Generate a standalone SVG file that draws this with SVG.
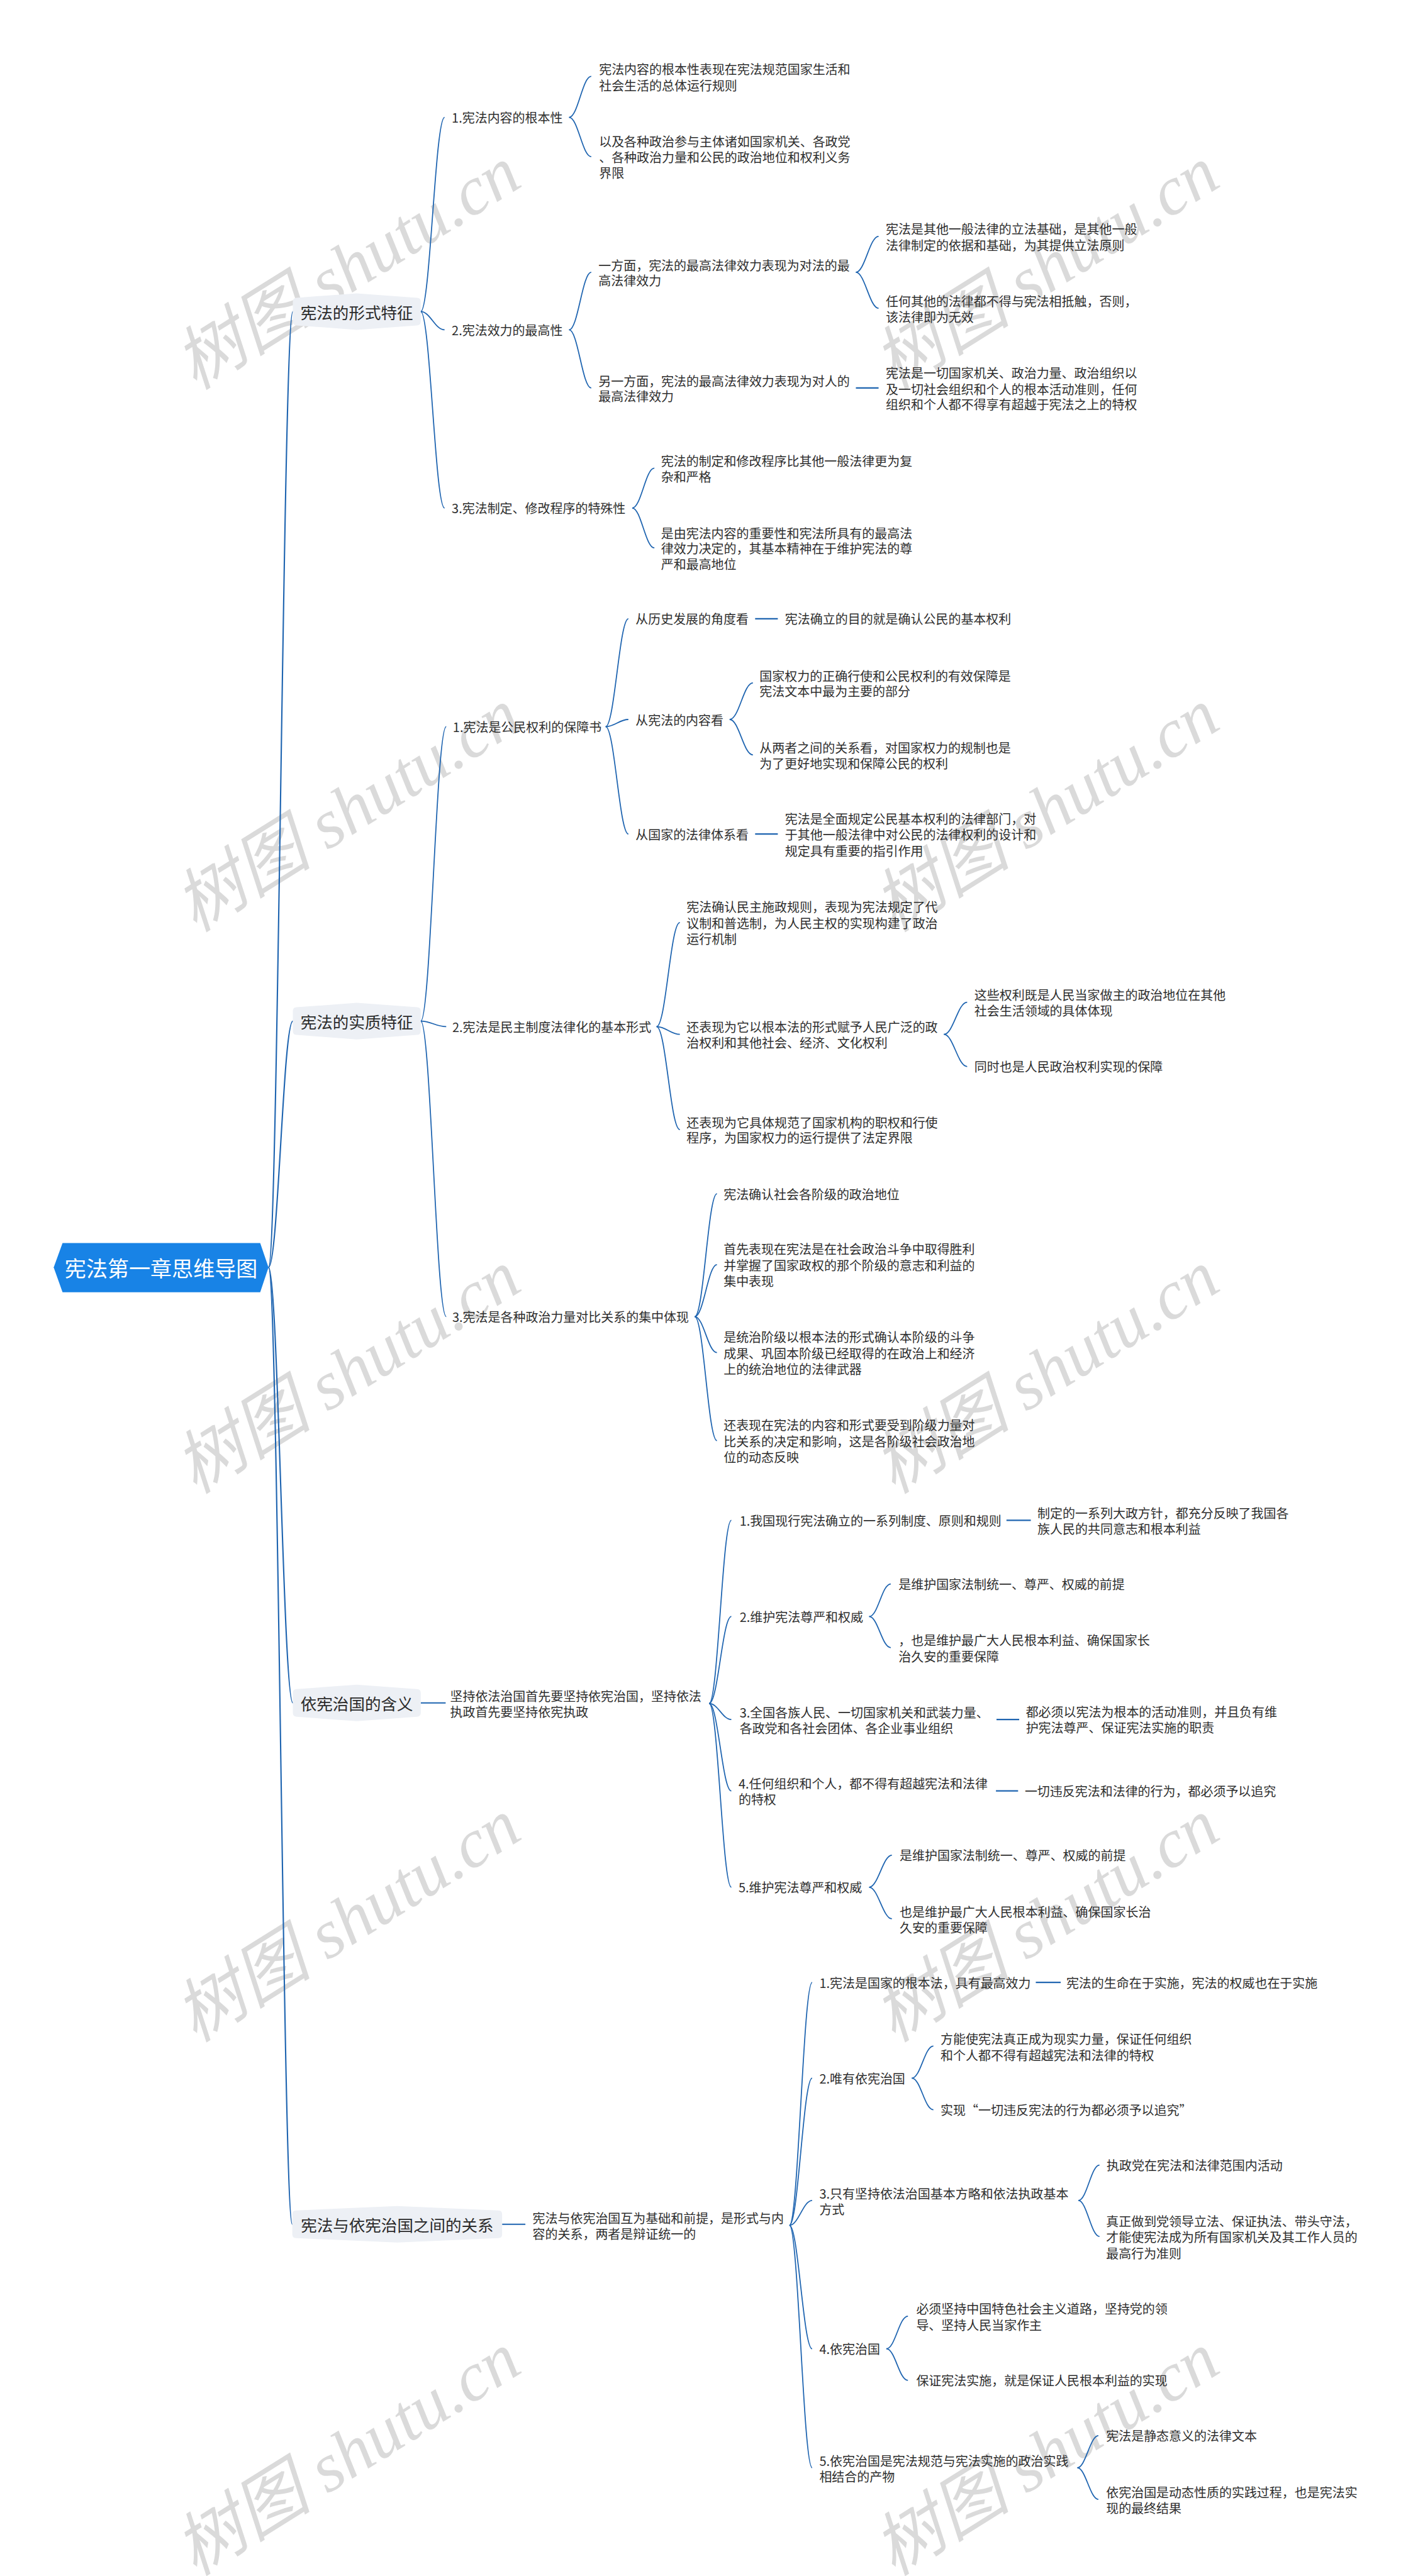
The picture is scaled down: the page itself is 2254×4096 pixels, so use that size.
<svg xmlns="http://www.w3.org/2000/svg" xmlns:xlink="http://www.w3.org/1999/xlink" width="2254" height="4096" viewBox="0 0 2254 4096">
<defs>
<style>
.t{font-family:"Noto Sans CJK SC","Noto Sans",sans-serif;font-size:22.7px;fill:#2e2e2e;dominant-baseline:central}
.l1{font-size:29px;text-anchor:middle;fill:#2a2a2a}
.rt{font-size:38.7px;fill:#ffffff;text-anchor:middle}
.c{fill:none;stroke:#1e64b0;stroke-width:2}
.s{stroke-width:2.4}
.r{stroke-width:2.4}
.box{fill:#edf0f5}
.wm{font-family:"Liberation Serif","Noto Sans CJK SC",serif;font-style:italic;font-size:125px;fill:#dadada;text-anchor:middle}
</style>
<path id="b7" d="M-108.5 -25 L0 -33 L108.5 -25 Q115.5 -25 115.5 -18 L115.5 18 Q115.5 25 108.5 25 L0 33 L-108.5 25 Q-115.5 25 -115.5 18 L-115.5 -18 Q-115.5 -25 -108.5 -25 Z"/>
</defs>
<rect width="2254" height="4096" fill="#ffffff"/>
<g transform="scale(0.88)">
<g id="watermarks">
<text class="wm" x="650" y="520" transform="rotate(-32 650 520)">树图 shutu.cn</text>
<text class="wm" x="1912" y="520" transform="rotate(-32 1912 520)">树图 shutu.cn</text>
<text class="wm" x="650" y="1500" transform="rotate(-32 650 1500)">树图 shutu.cn</text>
<text class="wm" x="1912" y="1500" transform="rotate(-32 1912 1500)">树图 shutu.cn</text>
<text class="wm" x="650" y="2515" transform="rotate(-32 650 2515)">树图 shutu.cn</text>
<text class="wm" x="1912" y="2515" transform="rotate(-32 1912 2515)">树图 shutu.cn</text>
<text class="wm" x="650" y="3506" transform="rotate(-32 650 3506)">树图 shutu.cn</text>
<text class="wm" x="1912" y="3506" transform="rotate(-32 1912 3506)">树图 shutu.cn</text>
<text class="wm" x="650" y="4470" transform="rotate(-32 650 4470)">树图 shutu.cn</text>
<text class="wm" x="1912" y="4470" transform="rotate(-32 1912 4470)">树图 shutu.cn</text>
</g>
<g id="connectors">
<path class="c r" d="M485 2290 C502.6 2290 511.4 563 529 563"/>
<path class="c r" d="M485 2290 C502.6 2290 511.4 1845 529 1845"/>
<path class="c r" d="M485 2290 C502.6 2290 511.4 3077 529 3077"/>
<path class="c r" d="M485 2290 C502.6 2290 511.4 4019 528 4019"/>
<path class="c" d="M760 563 C777 563 786 212 803 212"/>
<path class="c" d="M760 563 C777 563 786 596 803 596"/>
<path class="c" d="M760 563 C777 563 786 918 803 918"/>
<path class="c" d="M760 1845 C778 1845 788 1313 806 1313"/>
<path class="c" d="M760 1845 C778 1845 788 1855 806 1855"/>
<path class="c" d="M760 1845 C778 1845 788 2379 806 2379"/>
<path class="c s" d="M760 3077 H805"/>
<path class="c s" d="M907 4019 H949"/>
<path class="c" d="M1028 212 C1044 212 1052 138 1068 138"/>
<path class="c" d="M1028 212 C1044 212 1052 283 1068 283"/>
<path class="c" d="M1028 596 C1044 596 1052 492 1068 492"/>
<path class="c" d="M1028 596 C1044 596 1052 701 1068 701"/>
<path class="c" d="M1546 492 C1562 492 1571 427 1587 427"/>
<path class="c" d="M1546 492 C1562 492 1571 557 1587 557"/>
<path class="c s" d="M1546 701 H1587"/>
<path class="c" d="M1142 918 C1158 918 1166 846 1182 846"/>
<path class="c" d="M1142 918 C1158 918 1166 990 1182 990"/>
<path class="c" d="M1094 1313 C1110 1313 1119 1118 1135 1118"/>
<path class="c" d="M1094 1313 C1110 1313 1119 1300 1135 1300"/>
<path class="c" d="M1094 1313 C1110 1313 1119 1507 1135 1507"/>
<path class="c s" d="M1364 1118 H1405"/>
<path class="c" d="M1318 1300 C1335 1300 1343 1234 1360 1234"/>
<path class="c" d="M1318 1300 C1335 1300 1343 1364 1360 1364"/>
<path class="c s" d="M1364 1507 H1405"/>
<path class="c" d="M1186 1855 C1203 1855 1211 1667 1228 1667"/>
<path class="c" d="M1186 1855 C1203 1855 1211 1869 1228 1869"/>
<path class="c" d="M1186 1855 C1203 1855 1211 2041 1228 2041"/>
<path class="c" d="M1705 1869 C1722 1869 1730 1811 1747 1811"/>
<path class="c" d="M1705 1869 C1722 1869 1730 1927 1747 1927"/>
<path class="c" d="M1255 2379 C1271 2379 1279 2157 1295 2157"/>
<path class="c" d="M1255 2379 C1271 2379 1279 2285 1295 2285"/>
<path class="c" d="M1255 2379 C1271 2379 1279 2444 1295 2444"/>
<path class="c" d="M1255 2379 C1271 2379 1279 2603 1295 2603"/>
<path class="c" d="M1281 3078 C1297 3078 1305 2747 1321 2747"/>
<path class="c" d="M1281 3078 C1297 3078 1305 2921 1321 2921"/>
<path class="c" d="M1281 3078 C1297 3078 1305 3107 1321 3107"/>
<path class="c" d="M1281 3078 C1297 3078 1305 3236 1321 3236"/>
<path class="c" d="M1281 3078 C1297 3078 1305 3410 1321 3410"/>
<path class="c s" d="M1818 2747 H1862"/>
<path class="c" d="M1570 2921 C1586 2921 1593 2862 1609 2862"/>
<path class="c" d="M1570 2921 C1586 2921 1593 2977 1609 2977"/>
<path class="c s" d="M1800 3107 H1841"/>
<path class="c s" d="M1799 3236 H1839"/>
<path class="c" d="M1570 3410 C1586 3410 1595 3352 1611 3352"/>
<path class="c" d="M1570 3410 C1586 3410 1595 3467 1611 3467"/>
<path class="c" d="M1426 4021 C1442 4021 1451 3582 1467 3582"/>
<path class="c" d="M1426 4021 C1442 4021 1451 3755 1467 3755"/>
<path class="c" d="M1426 4021 C1442 4021 1451 3976 1467 3976"/>
<path class="c" d="M1426 4021 C1442 4021 1451 4244 1467 4244"/>
<path class="c" d="M1426 4021 C1442 4021 1451 4459 1467 4459"/>
<path class="c s" d="M1871 3582 H1916"/>
<path class="c" d="M1647 3755 C1663 3755 1670 3697 1686 3697"/>
<path class="c" d="M1647 3755 C1663 3755 1670 3812 1686 3812"/>
<path class="c" d="M1948 3976 C1963 3976 1971 3912 1986 3912"/>
<path class="c" d="M1948 3976 C1963 3976 1971 4041 1986 4041"/>
<path class="c" d="M1601 4244 C1617 4244 1624 4185 1640 4185"/>
<path class="c" d="M1601 4244 C1617 4244 1624 4301 1640 4301"/>
<path class="c" d="M1946 4459 C1961 4459 1969 4401 1984 4401"/>
<path class="c" d="M1946 4459 C1961 4459 1969 4516 1984 4516"/>
</g>
<g id="root">
<polygon points="97,2290 113,2246 470,2246 485,2290 470,2335 113,2335" fill="#1883e6"/>
<text class="t rt" x="291" y="2290">宪法第一章思维导图</text>
</g>
<g id="n-l1a"><use xlink:href="#b7" class="box" transform="translate(644.5 563)"/><text class="t l1" x="644.5" y="563">宪法的形式特征</text></g>
<g id="n-l1b"><use xlink:href="#b7" class="box" transform="translate(644.5 1845)"/><text class="t l1" x="644.5" y="1845">宪法的实质特征</text></g>
<g id="n-l1c"><use xlink:href="#b7" class="box" transform="translate(644.5 3077)"/><text class="t l1" x="644.5" y="3077">依宪治国的含义</text></g>
<g id="n-l1d"><path class="box" transform="translate(717.5 4019)" d="M-182.5 -25 L0 -33 L182.5 -25 Q189.5 -25 189.5 -18 L189.5 18 Q189.5 25 182.5 25 L0 33 L-182.5 25 Q-189.5 25 -189.5 18 L-189.5 -18 Q-189.5 -25 -182.5 -25 Z"/><text class="t l1" x="717.5" y="4019">宪法与依宪治国之间的关系</text></g>

<g id="n-a1"><text class="t" x="816" y="212">1.宪法内容的根本性</text></g>
<g id="n-a1-1"><text class="t"><tspan x="1082" y="124">宪法内容的根本性表现在宪法规范国家生活和</tspan><tspan x="1082" y="153">社会生活的总体运行规则</tspan></text></g>
<g id="n-a1-2"><text class="t"><tspan x="1082" y="254">以及各种政治参与主体诸如国家机关、各政党</tspan><tspan x="1082" y="283">、各种政治力量和公民的政治地位和权利义务</tspan><tspan x="1082" y="311">界限</tspan></text></g>
<g id="n-a2"><text class="t" x="816" y="596">2.宪法效力的最高性</text></g>
<g id="n-a2-1"><text class="t"><tspan x="1081" y="478">一方面，宪法的最高法律效力表现为对法的最</tspan><tspan x="1081" y="506">高法律效力</tspan></text></g>
<g id="n-a2-1-1"><text class="t"><tspan x="1600" y="413">宪法是其他一般法律的立法基础，是其他一般</tspan><tspan x="1600" y="442">法律制定的依据和基础，为其提供立法原则</tspan></text></g>
<g id="n-a2-1-2"><text class="t"><tspan x="1600" y="543">任何其他的法律都不得与宪法相抵触，否则，</tspan><tspan x="1600" y="572">该法律即为无效</tspan></text></g>
<g id="n-a2-2"><text class="t"><tspan x="1081" y="687">另一方面，宪法的最高法律效力表现为对人的</tspan><tspan x="1081" y="715">最高法律效力</tspan></text></g>
<g id="n-a2-2-1"><text class="t"><tspan x="1600" y="673">宪法是一切国家机关、政治力量、政治组织以</tspan><tspan x="1600" y="702">及一切社会组织和个人的根本活动准则，任何</tspan><tspan x="1600" y="730">组织和个人都不得享有超越于宪法之上的特权</tspan></text></g>
<g id="n-a3"><text class="t" x="816" y="918">3.宪法制定、修改程序的特殊性</text></g>
<g id="n-a3-1"><text class="t"><tspan x="1194" y="832">宪法的制定和修改程序比其他一般法律更为复</tspan><tspan x="1194" y="860">杂和严格</tspan></text></g>
<g id="n-a3-2"><text class="t"><tspan x="1194" y="962">是由宪法内容的重要性和宪法所具有的最高法</tspan><tspan x="1194" y="990">律效力决定的，其基本精神在于维护宪法的尊</tspan><tspan x="1194" y="1018">严和最高地位</tspan></text></g>

<g id="n-b1"><text class="t" x="818" y="1313">1.宪法是公民权利的保障书</text></g>
<g id="n-b1-1"><text class="t" x="1148" y="1118">从历史发展的角度看</text></g>
<g id="n-b1-1-1"><text class="t" x="1418" y="1118">宪法确立的目的就是确认公民的基本权利</text></g>
<g id="n-b1-2"><text class="t" x="1148" y="1300">从宪法的内容看</text></g>
<g id="n-b1-2-1"><text class="t"><tspan x="1372" y="1220">国家权力的正确行使和公民权利的有效保障是</tspan><tspan x="1372" y="1248">宪法文本中最为主要的部分</tspan></text></g>
<g id="n-b1-2-2"><text class="t"><tspan x="1372" y="1350">从两者之间的关系看，对国家权力的规制也是</tspan><tspan x="1372" y="1378">为了更好地实现和保障公民的权利</tspan></text></g>
<g id="n-b1-3"><text class="t" x="1148" y="1507">从国家的法律体系看</text></g>
<g id="n-b1-3-1"><text class="t"><tspan x="1418" y="1478">宪法是全面规定公民基本权利的法律部门，对</tspan><tspan x="1418" y="1507">于其他一般法律中对公民的法律权利的设计和</tspan><tspan x="1418" y="1536">规定具有重要的指引作用</tspan></text></g>
<g id="n-b2"><text class="t" x="817" y="1855">2.宪法是民主制度法律化的基本形式</text></g>
<g id="n-b2-1"><text class="t"><tspan x="1240" y="1638">宪法确认民主施政规则，表现为宪法规定了代</tspan><tspan x="1240" y="1667">议制和普选制，为人民主权的实现构建了政治</tspan><tspan x="1240" y="1695">运行机制</tspan></text></g>
<g id="n-b2-2"><text class="t"><tspan x="1240" y="1855">还表现为它以根本法的形式赋予人民广泛的政</tspan><tspan x="1240" y="1883">治权利和其他社会、经济、文化权利</tspan></text></g>
<g id="n-b2-2-1"><text class="t"><tspan x="1760" y="1797">这些权利既是人民当家做主的政治地位在其他</tspan><tspan x="1760" y="1825">社会生活领域的具体体现</tspan></text></g>
<g id="n-b2-2-2"><text class="t" x="1760" y="1927">同时也是人民政治权利实现的保障</text></g>
<g id="n-b2-3"><text class="t"><tspan x="1240" y="2027">还表现为它具体规范了国家机构的职权和行使</tspan><tspan x="1240" y="2055">程序，为国家权力的运行提供了法定界限</tspan></text></g>
<g id="n-b3"><text class="t" x="817" y="2379">3.宪法是各种政治力量对比关系的集中体现</text></g>
<g id="n-b3-1"><text class="t" x="1307" y="2157">宪法确认社会各阶级的政治地位</text></g>
<g id="n-b3-2"><text class="t"><tspan x="1307" y="2256">首先表现在宪法是在社会政治斗争中取得胜利</tspan><tspan x="1307" y="2285">并掌握了国家政权的那个阶级的意志和利益的</tspan><tspan x="1307" y="2314">集中表现</tspan></text></g>
<g id="n-b3-3"><text class="t"><tspan x="1307" y="2415">是统治阶级以根本法的形式确认本阶级的斗争</tspan><tspan x="1307" y="2444">成果、巩固本阶级已经取得的在政治上和经济</tspan><tspan x="1307" y="2473">上的统治地位的法律武器</tspan></text></g>
<g id="n-b3-4"><text class="t"><tspan x="1307" y="2574">还表现在宪法的内容和形式要受到阶级力量对</tspan><tspan x="1307" y="2603">比关系的决定和影响，这是各阶级社会政治地</tspan><tspan x="1307" y="2632">位的动态反映</tspan></text></g>

<g id="n-c0"><text class="t"><tspan x="813" y="3064">坚持依法治国首先要坚持依宪治国，坚持依法</tspan><tspan x="813" y="3092">执政首先要坚持依宪执政</tspan></text></g>
<g id="n-c1"><text class="t" x="1336" y="2747">1.我国现行宪法确立的一系列制度、原则和规则</text></g>
<g id="n-c1-1"><text class="t"><tspan x="1874" y="2733">制定的一系列大政方针，都充分反映了我国各</tspan><tspan x="1874" y="2761">族人民的共同意志和根本利益</tspan></text></g>
<g id="n-c2"><text class="t" x="1336" y="2921">2.维护宪法尊严和权威</text></g>
<g id="n-c2-1"><text class="t" x="1623" y="2862">是维护国家法制统一、尊严、权威的前提</text></g>
<g id="n-c2-2"><text class="t"><tspan x="1623" y="2963">，也是维护最广大人民根本利益、确保国家长</tspan><tspan x="1623" y="2992">治久安的重要保障</tspan></text></g>
<g id="n-c3"><text class="t"><tspan x="1336" y="3093">3.全国各族人民、一切国家机关和武装力量、</tspan><tspan x="1336" y="3122">各政党和各社会团体、各企业事业组织</tspan></text></g>
<g id="n-c3-1"><text class="t"><tspan x="1853" y="3092">都必须以宪法为根本的活动准则，并且负有维</tspan><tspan x="1853" y="3120">护宪法尊严、保证宪法实施的职责</tspan></text></g>
<g id="n-c4"><text class="t"><tspan x="1334" y="3222">4.任何组织和个人，都不得有超越宪法和法律</tspan><tspan x="1334" y="3250">的特权</tspan></text></g>
<g id="n-c4-1"><text class="t" x="1851" y="3236">一切违反宪法和法律的行为，都必须予以追究</text></g>
<g id="n-c5"><text class="t" x="1334" y="3410">5.维护宪法尊严和权威</text></g>
<g id="n-c5-1"><text class="t" x="1625" y="3352">是维护国家法制统一、尊严、权威的前提</text></g>
<g id="n-c5-2"><text class="t"><tspan x="1625" y="3453">也是维护最广大人民根本利益、确保国家长治</tspan><tspan x="1625" y="3482">久安的重要保障</tspan></text></g>

<g id="n-d0"><text class="t"><tspan x="962" y="4007">宪法与依宪治国互为基础和前提，是形式与内</tspan><tspan x="962" y="4035">容的关系，两者是辩证统一的</tspan></text></g>
<g id="n-d1"><text class="t" x="1480" y="3582">1.宪法是国家的根本法，具有最高效力</text></g>
<g id="n-d1-1"><text class="t" x="1926" y="3582">宪法的生命在于实施，宪法的权威也在于实施</text></g>
<g id="n-d2"><text class="t" x="1480" y="3755">2.唯有依宪治国</text></g>
<g id="n-d2-1"><text class="t"><tspan x="1699" y="3683">方能使宪法真正成为现实力量，保证任何组织</tspan><tspan x="1699" y="3712">和个人都不得有超越宪法和法律的特权</tspan></text></g>
<g id="n-d2-2"><text class="t" x="1699" y="3812">实现“一切违反宪法的行为都必须予以追究”</text></g>
<g id="n-d3"><text class="t"><tspan x="1480" y="3962">3.只有坚持依法治国基本方略和依法执政基本</tspan><tspan x="1480" y="3991">方式</tspan></text></g>
<g id="n-d3-1"><text class="t" x="1999" y="3912">执政党在宪法和法律范围内活动</text></g>
<g id="n-d3-2"><text class="t"><tspan x="1998" y="4012">真正做到党领导立法、保证执法、带头守法，</tspan><tspan x="1998" y="4041">才能使宪法成为所有国家机关及其工作人员的</tspan><tspan x="1998" y="4070">最高行为准则</tspan></text></g>
<g id="n-d4"><text class="t" x="1480" y="4244">4.依宪治国</text></g>
<g id="n-d4-1"><text class="t"><tspan x="1655" y="4171">必须坚持中国特色社会主义道路，坚持党的领</tspan><tspan x="1655" y="4200">导、坚持人民当家作主</tspan></text></g>
<g id="n-d4-2"><text class="t" x="1655" y="4301">保证宪法实施，就是保证人民根本利益的实现</text></g>
<g id="n-d5"><text class="t"><tspan x="1480" y="4445">5.依宪治国是宪法规范与宪法实施的政治实践</tspan><tspan x="1480" y="4474">相结合的产物</tspan></text></g>
<g id="n-d5-1"><text class="t" x="1998" y="4401">宪法是静态意义的法律文本</text></g>
<g id="n-d5-2"><text class="t"><tspan x="1998" y="4502">依宪治国是动态性质的实践过程，也是宪法实</tspan><tspan x="1998" y="4531">现的最终结果</tspan></text></g>
</g>
</svg>
